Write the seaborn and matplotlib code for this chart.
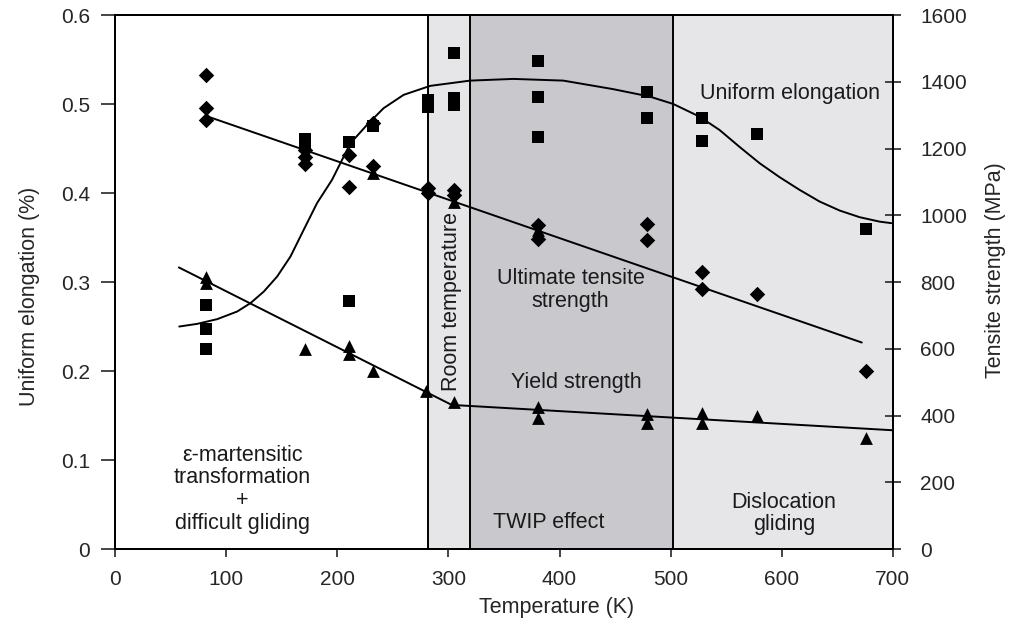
import numpy as np
import pandas as pd
import matplotlib
matplotlib.use('Agg')
import matplotlib.pyplot as plt
import seaborn as sns

sns.set_style('ticks')
plt.rcParams['font.family'] = ['Liberation Sans', 'DejaVu Sans']

# Uniform elongation (squares, left axis)
ue_T = [82, 82, 82, 171, 171, 211, 211, 232, 282, 282, 305, 305, 305,
        381, 381, 381, 479, 479, 528, 528, 578, 676]
ue_val = [0.274, 0.247, 0.225, 0.461, 0.455, 0.457, 0.279, 0.475, 0.505, 0.497,
          0.558, 0.507, 0.499, 0.549, 0.508, 0.463, 0.514, 0.484, 0.484, 0.459,
          0.467, 0.36]

# Ultimate tensile strength (diamonds, right axis)
uts_T = [82, 82, 82, 171, 171, 171, 211, 211, 232, 232, 282, 282, 305, 305,
         381, 381, 479, 479, 528, 528, 578, 676]
uts_MPa = [1421, 1323, 1286, 1196, 1176, 1154, 1181, 1086, 1278, 1148, 1082, 1067,
           1076, 1062, 971, 929, 975, 927, 829, 780, 765, 535]

# Yield strength (triangles, right axis)
ys_T = [82, 82, 171, 211, 211, 232, 232, 280, 305, 305, 381, 381, 381,
        479, 479, 528, 528, 578, 676]
ys_MPa = [815, 797, 600, 610, 586, 535, 1126, 473, 442, 1041, 955, 427, 394,
          405, 377, 407, 379, 399, 332]

# fitted curves
ue_fit_T = [57.8, 74, 92, 110, 121.9, 133.9, 145.9, 157.9, 169.8, 181.8, 195.3,
            211.8, 226.8, 241.7, 259.7, 283.7, 319.6, 358.5, 403.4, 448.3, 481.3,
            502.2, 526, 544, 562, 580, 598, 616, 634, 652, 670, 688, 698.5]
ue_fit_val = [0.2501, 0.2531, 0.2584, 0.2670, 0.2764, 0.2894, 0.3063, 0.3288, 0.3588,
              0.3888, 0.415, 0.456, 0.4768, 0.4955, 0.5105, 0.5206, 0.5265, 0.5284,
              0.5265, 0.5169, 0.5085, 0.5003, 0.486, 0.471, 0.452, 0.4337, 0.418,
              0.4037, 0.3906, 0.3805, 0.373, 0.368, 0.3663]
uts_fit_T = [82, 672]
uts_fit_MPa = [1298, 619]
ys_fit_T = [57.5, 303, 700]
ys_fit_MPa = [844, 432, 356]

# temperature regions
region_edges = [0, 282, 319, 502, 700]
region_colors = ['white', '#e6e6e8', '#c9c9cd', '#e6e6e8']

fig, ax = plt.subplots(figsize=(10.24, 6.34), dpi=100)
fig.subplots_adjust(left=0.1123, right=0.872, top=0.976, bottom=0.134)

for i in range(len(region_colors)):
    ax.axvspan(region_edges[i], region_edges[i + 1], color=region_colors[i], lw=0, zorder=0)
for x in region_edges[1:-1]:
    ax.axvline(x, color='black', lw=1.4, zorder=1)

ax2 = ax.twinx()

ue_df = pd.DataFrame({'T': ue_T, 'v': ue_val})
sns.scatterplot(data=ue_df, x='T', y='v', marker='s', s=72, color='black',
                linewidth=0, ax=ax, zorder=3)
sns.lineplot(x=ue_fit_T, y=ue_fit_val, color='black', lw=1.4, sort=False,
             estimator=None, ax=ax, zorder=2)

uts_df = pd.DataFrame({'T': uts_T, 'v': uts_MPa})
ys_df = pd.DataFrame({'T': ys_T, 'v': ys_MPa})
sns.scatterplot(data=uts_df, x='T', y='v', marker='D', s=62, color='black',
                linewidth=0, ax=ax2, zorder=3)
sns.scatterplot(data=ys_df, x='T', y='v', marker='^', s=85, color='black',
                linewidth=0, ax=ax2, zorder=3)
sns.lineplot(x=uts_fit_T, y=uts_fit_MPa, color='black', lw=1.4, sort=False,
             estimator=None, ax=ax2)
sns.lineplot(x=ys_fit_T, y=ys_fit_MPa, color='black', lw=1.4, sort=False,
             estimator=None, ax=ax2)

ax.set_xlim(0, 700)
ax.set_ylim(0, 0.6)
ax2.set_ylim(0, 1600)
ax.set_xticks(range(0, 701, 100))
ax.set_yticks(np.arange(0, 0.61, 0.1))
ax.set_yticklabels(['0', '0.1', '0.2', '0.3', '0.4', '0.5', '0.6'])
ax2.set_yticks(range(0, 1601, 200))

ax.tick_params(axis='y', direction='out', length=10, width=1.2, pad=8, labelsize=15)
ax.tick_params(axis='x', direction='out', length=6, width=1.2, pad=9, labelsize=15)
ax2.tick_params(axis='y', direction='inout', length=11, width=1.2, pad=14, labelsize=15)

for a in (ax, ax2):
    for sp in a.spines.values():
        sp.set_linewidth(1.4)
        sp.set_color('black')

ax.set_xlabel('Temperature (K)', fontsize=15.5)
ax.xaxis.set_label_coords(0.567, -0.09)
ax.set_ylabel('Uniform elongation (%)', fontsize=15.5)
ax.yaxis.set_label_coords(-0.097, 0.474)
ax2.set_ylabel('Tensite strength (MPa)', fontsize=15.5)
ax2.yaxis.set_label_coords(1.118, 0.523)

tkw = dict(fontsize=15.5, ha='center', va='center', color='#1a1a1a')
ax.text(607, 0.512, 'Uniform elongation', **tkw)
ax.text(410, 0.291, 'Ultimate tensite\nstrength', linespacing=1.1, **tkw)
ax.text(415, 0.187, 'Yield strength', **tkw)
ax.text(390, 0.030, 'TWIP effect', **tkw)
ax.text(602, 0.040, 'Dislocation\ngliding', linespacing=1.1, **tkw)
ax.text(114.5, 0.067, 'ε-martensitic\ntransformation\n+\ndifficult gliding',
        linespacing=1.12, **tkw)
ax.text(303, 0.178, 'Room temperature', fontsize=15.5, rotation=90,
        ha='center', va='bottom', color='#1a1a1a')

ax.set_zorder(ax2.get_zorder() - 1)
ax2.patch.set_visible(False)

fig.savefig('out.png', dpi=100)
